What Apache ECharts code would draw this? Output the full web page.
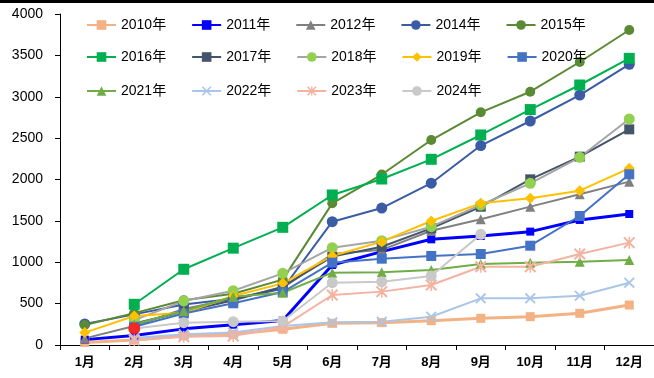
<!DOCTYPE html>
<html>
<head>
<meta charset="utf-8">
<script src="https://cdn.jsdelivr.net/npm/echarts@6/dist/echarts.min.js"></script>
<style>
  html, body { margin: 0; padding: 0; background: #fff; }
  #chart { width: 654px; height: 378px; }
</style>
</head>
<body>
<div id="chart"></div>
<script>
// Month categories and y-axis ticks
const months = ['1月','2月','3月','4月','5月','6月','7月','8月','9月','10月','11月','12月'];
const yMin = 0, yMax = 4000, yStep = 500;

// Cumulative values per year (null = no data)
const y2010 = [30, 60, 110, 130, 190, 262, 270, 294, 322, 342, 383, 483];
const y2011 = [65, 115, 195, 245, 295, 967, 1128, 1277, 1317, 1370, 1511, 1583];
const y2012 = [80, 230, 435, 560, 690, 1100, 1150, 1380, 1519, 1672, 1821, 1974];
const y2014 = [255, 370, 490, 560, 680, 1490, 1655, 1955, 2410, 2707, 3020, 3392];
const y2015 = [242, 385, 540, 620, 790, 1712, 2060, 2477, 2812, 3061, 3420, 3807];
const y2016 = [null, 492, 915, 1170, 1422, 1813, 2006, 2244, 2538, 2845, 3142, 3464];
const y2017 = [null, 260, 402, 540, 705, 1068, 1188, 1410, 1671, 2002, 2276, 2606];
const y2018 = [null, 300, 532, 656, 866, 1176, 1261, 1430, 1692, 1954, 2268, 2731];
const y2019 = [150, 350, 390, 592, 745, 1076, 1249, 1498, 1712, 1773, 1865, 2135];
const y2020 = [null, 220, 380, 504, 640, 995, 1043, 1076, 1100, 1200, 1559, 2063];
const y2021 = [null, 250, 410, 584, 632, 874, 878, 906, 979, 995, 1007, 1027];
const y2022 = [null, 85, 130, 150, 230, 274, 282, 342, 564, 564, 596, 753];
const y2023 = [null, 60, 100, 109, 220, 604, 645, 725, 946, 946, 1100, 1237];
const y2024 = [null, 200, 270, 282, 290, 753, 765, 834, 1337, null, null, null];
const highlight = [null, 200, null, null, null, null, null, null, null, null, null, null];

const xPath = 'path://M0,1.2 L1.2,0 L10,8.8 L8.8,10 Z M8.8,0 L10,1.2 L1.2,10 L0,8.8 Z';
const starPath = 'path://M0,1.2 L1.2,0 L10,8.8 L8.8,10 Z M8.8,0 L10,1.2 L1.2,10 L0,8.8 Z M4.4,0 L5.6,0 L5.6,10 L4.4,10 Z';

function line(name, data, color, symbol, size, width, markerColor) {
  return {
    name: name, type: 'line', data: data,
    symbol: symbol, symbolSize: size,
    lineStyle: { color: color, width: width },
    itemStyle: { color: markerColor || color },
    emphasis: { disabled: true },
    animation: false
  };
}

const series = [
  line('2010年', y2010, '#F4B183', 'rect', 9, 3),
  line('2011年', y2011, '#0000FF', 'rect', 8, 3),
  line('2012年', y2012, '#808080', 'triangle', 10, 2),
  line('2014年', y2014, '#3A5CA5', 'circle', 11, 2),
  line('2015年', y2015, '#5B8A34', 'circle', 10, 2),
  line('2016年', y2016, '#00B050', 'rect', 11, 2),
  line('2017年', y2017, '#44546A', 'rect', 10, 2),
  line('2018年', y2018, '#A5A5A5', 'circle', 11, 2, '#92D050'),
  line('2019年', y2019, '#FFC000', 'diamond', 11, 2),
  line('2020年', y2020, '#4472C4', 'rect', 10, 2),
  line('2021年', y2021, '#70AD47', 'triangle', 10, 2),
  line('2022年', y2022, '#A9C6E8', xPath, 11, 2),
  line('2023年', y2023, '#F4B3A1', starPath, 12, 2),
  line('2024年', y2024, '#C9C9C9', 'circle', 11, 2),
  {
    name: 'mark', type: 'scatter', data: highlight,
    symbol: 'circle', symbolSize: 12,
    itemStyle: { color: '#FF0000' }, z: 5, animation: false
  }
];

const font = '"Liberation Sans", Arial, "Noto Sans CJK SC", sans-serif';

function legendRow(names, top) {
  return {
    data: names, top: top, left: 81,
    orient: 'horizontal', itemWidth: 29, itemHeight: 12, itemGap: 25,
    textStyle: { fontSize: 14, color: '#000', fontFamily: font },
    selectedMode: false
  };
}

const chart = echarts.init(document.getElementById('chart'), null, { renderer: 'canvas' });
chart.setOption({
  backgroundColor: '#fff',
  animation: false,
  grid: { left: 60, right: 0, top: 14, bottom: 33 },
  legend: [
    legendRow(['2010年','2011年','2012年','2014年','2015年'], 13),
    legendRow(['2016年','2017年','2018年','2019年','2020年'], 45),
    legendRow(['2021年','2022年','2023年','2024年'], 79)
  ],
  xAxis: {
    type: 'category', data: months, boundaryGap: true,
    axisLine: { lineStyle: { color: '#000', width: 1 } },
    axisTick: { show: true, interval: 0, length: 5, lineStyle: { color: '#000' } },
    axisLabel: { color: '#000', fontSize: 13, fontWeight: 'bold', margin: 11, fontFamily: font, interval: 0 }
  },
  yAxis: {
    type: 'value', min: yMin, max: yMax, interval: yStep,
    axisLine: { show: true, lineStyle: { color: '#000', width: 1 } },
    axisTick: { show: true, length: 5, lineStyle: { color: '#000' } },
    splitLine: { show: false },
    axisLabel: { color: '#000', fontSize: 14, margin: 17, fontFamily: font, formatter: v => String(v) }
  },
  graphic: [{
    type: 'rect', left: 0, top: 0,
    shape: { width: 654, height: 3 },
    style: { fill: '#000' }, silent: true
  }],
  series: series
});
</script>
</body>
</html>
